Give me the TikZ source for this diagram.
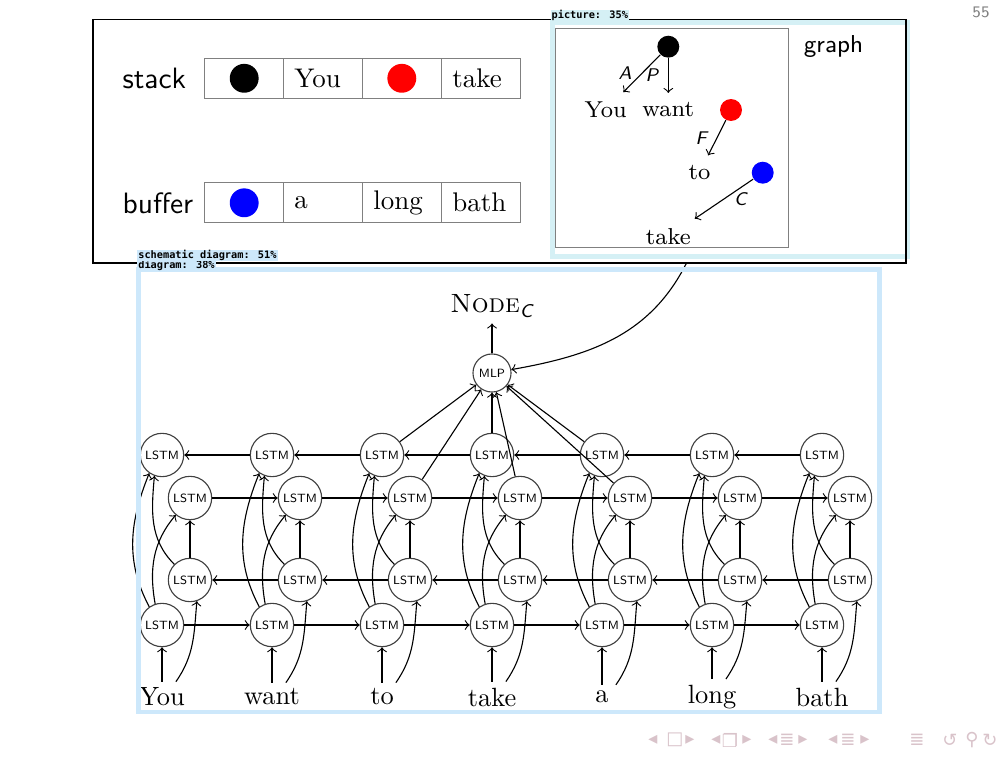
\documentclass[tikz,border=0pt]{standalone}
\usepackage{fontspec}
\newfontfamily\dejavu{DejaVu Sans}
\newfontfamily\annmono{DejaVu Sans Mono}
\definecolor{annblue}{HTML}{CDE8FB}
\definecolor{anncyan}{HTML}{D5F0F5}
\definecolor{navc}{HTML}{D9C3CA}
\begin{document}
\begin{tikzpicture}[x=0.36pt,y=-0.36pt,
  arr/.style={->},
  lstm/.style={circle,draw=black!75,minimum size=15.6pt,inner sep=0pt,font=\fontsize{4.3}{5}\selectfont\sffamily},
  mlpn/.style={circle,draw=black!75,minimum size=13.7pt,inner sep=0pt,font=\fontsize{4.3}{5}\selectfont\sffamily},
  word/.style={inner sep=2pt,font=\fontsize{9.5}{11}\selectfont},
  cell/.style={draw=black!50,minimum width=28.44pt,minimum height=14.4pt,inner sep=0pt},
  tcell/.style={cell,text width=20.44pt,align=left,inner xsep=4pt,font=\fontsize{9.7}{11}\selectfont},
  sdot/.style={circle,inner sep=0pt,minimum size=10.4pt},
  gdot/.style={circle,inner sep=0pt,minimum size=7.9pt},
  gword/.style={font=\fontsize{8.3}{10}\selectfont},
  lab/.style={inner sep=0.5pt,font=\fontsize{6.6}{8}\selectfont\sffamily\itshape},
  sideword/.style={anchor=base west,inner sep=0pt,font=\fontsize{10.6}{12}\selectfont\sffamily},
  annlab/.style={inner xsep=0.4pt,inner ysep=0pt,minimum height=4.1pt,anchor=north west,font=\fontsize{3.7}{4}\selectfont\annmono\bfseries},
  nav/.style={text=navc,font=\fontsize{6.5}{7}\selectfont\dejavu,inner sep=0pt}
]
\useasboundingbox (0,0) rectangle (1008,756);
\fill[white] (0,0) rectangle (1008,756);

% annotation frame of the picture
\draw[anncyan,line width=1.6pt] (552.5,22.5) rectangle (907.5,256.5);
% top frame
\draw (93,19.5) rectangle (906,263);

% stack and buffer
\node[sideword] (stk) at (122,88.3) {stack};
\node[sideword] (buf) at (122,213.3) {buffer};
\node[cell] (st1) at (244.2,78.3) {};
\node[tcell] (st2) at (322.8,78.3) {You};
\node[cell] (st3) at (401.8,78.3) {};
\node[tcell] (st4) at (480.7,78.3) {take};
\node[sdot,fill=black] (sd1) at (st1) {};
\node[sdot,fill=red] (sd3) at (st3) {};
\node[cell] (bf1) at (244.2,202.8) {};
\node[tcell] (bf2) at (322.8,202.8) {a};
\node[tcell] (bf3) at (401.8,202.8) {long};
\node[tcell] (bf4) at (480.7,202.8) {bath};
\node[sdot,fill=blue] (bd1) at (bf1) {};

% graph
\draw[black!50] (555.3,28.3) rectangle (788.3,247.7);
\node[anchor=base west,inner sep=0pt,font=\fontsize{8.8}{10}\selectfont\sffamily] (glab) at (803.3,53) {graph};
\node[gdot,fill=black] (gd0) at (668.3,46.7) {};
\node[gword] (gyou) at (605.7,110) {You};
\node[gword] (gwant) at (668.3,110) {want};
\node[gdot,fill=red] (gd1) at (731,110) {};
\node[gword] (gto) at (699.5,172.5) {to};
\node[gdot,fill=blue] (gd2) at (762.7,172.7) {};
\node[gword] (gtake) at (668.3,236.7) {take};
\draw[arr] (gd0) -- node[lab,left=3pt]{A} (gyou);
\draw[arr] (gd0) -- node[lab,left=3pt]{P} (gwant);
\draw[arr] (gd1) -- node[lab,left=3pt]{F} (gto);
\draw[arr] (gd2) -- node[lab,right=3pt]{C} (gtake);

\node[text=black!50,inner sep=0pt,font=\fontsize{5.8}{7}\selectfont\sffamily] (pg) at (981,12.5) {55};

% network
\foreach \w [count=\i from 0] in {You,want,to,take,a,long,bath}{
  \node[word] (w\i) at (162+110*\i,697) {\w};
  \node[lstm] (f\i) at (162+110*\i,625) {LSTM};
  \node[lstm] (g\i) at (190+110*\i,580) {LSTM};
  \node[lstm] (h\i) at (190+110*\i,498) {LSTM};
  \node[lstm] (k\i) at (162+110*\i,455) {LSTM};
  \draw[arr] (w\i) -- (f\i);
  \draw[arr] ([xshift=5pt]w\i.north) to[out=55,in=-95] (g\i.-72);
  \draw[arr] (f\i.108) to[out=100,in=-130] (h\i.-130);
  \draw[arr] (f\i.125) to[out=118,in=-112] (k\i.-125);
  \draw[arr] (g\i.135) to[out=135,in=-95] (k\i.-110);
  \draw[arr] (g\i) -- (h\i);
}
\foreach \i in {0,...,5}{
  \pgfmathtruncatemacro\j{\i+1}
  \draw[arr] (f\i) -- (f\j);
  \draw[arr] (g\j) -- (g\i);
  \draw[arr] (h\i) -- (h\j);
  \draw[arr] (k\j) -- (k\i);
}
\node[mlpn] (mlp) at (492,373) {MLP};
\node[inner sep=2pt,font=\fontsize{9.5}{11}\selectfont] (nodec) at (492,306) {\textsc{Node}\textsubscript{\sffamily\itshape C}};
\draw[arr] (mlp) -- (nodec);
\foreach \k in {2,3,4}{
  \draw[arr] (k\k) -- (mlp);
  \draw[arr] (h\k) -- (mlp);
}
\coordinate (gsrc) at (686,264);
\draw[arr] (gsrc) to[out=-117,in=10] (mlp);

% navigation symbols
\foreach \xx/\gl [count=\n] in {653/◂,675/□,690/▸,716/◂,730/❐,747/▸,773/◂,787/≣,803/▸,833/◂,848/≣,865/▸,917/≣,950/↺,972/⚲,990/↻}{
  \node[nav] (nv\n) at (\xx,740) {\gl};
}

% annotation frame of the diagram
\draw[annblue,line width=1.5pt] (138.5,269.5) rectangle (879.5,712);
\node[annlab,fill=anncyan] (pl) at (550,9) {picture: 35\%};
\node[annlab,fill=annblue] (dl) at (136.7,259.3) {diagram: 38\%};
\node[annlab,fill=annblue] (sl) at (136.7,249.3) {schematic diagram: 51\%};
\end{tikzpicture}
\end{document}
